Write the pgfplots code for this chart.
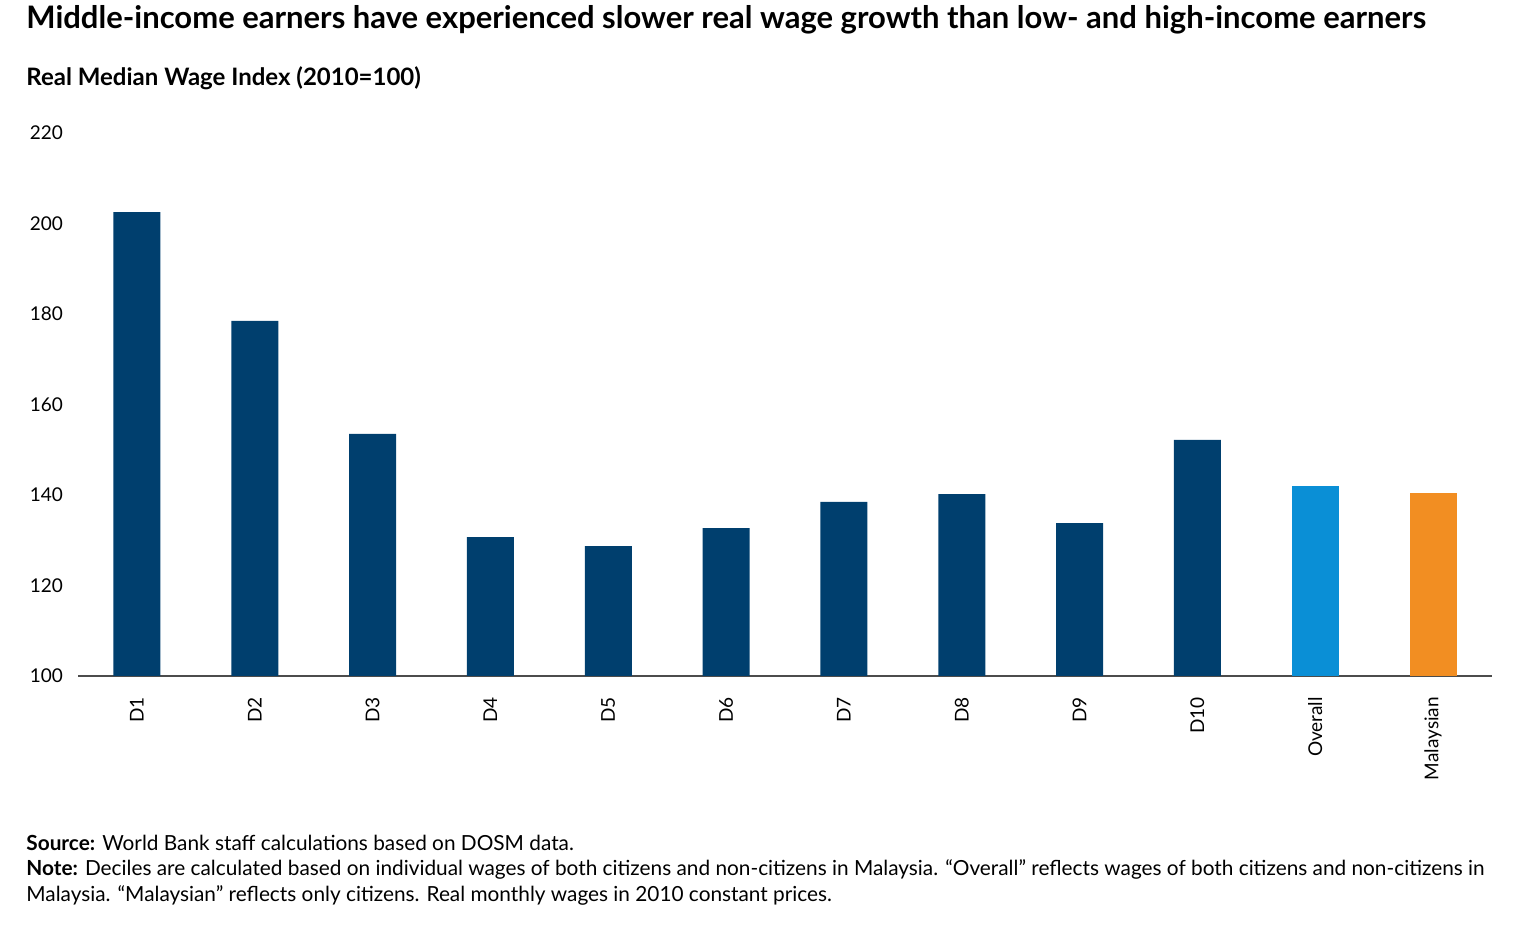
\documentclass[border=0pt]{standalone}
\usepackage{pgfplots}
\pgfplotsset{compat=1.18}
\usepackage{fontspec}
\setmainfont{Lato}
\definecolor{navy}{HTML}{003F6E}
\definecolor{sky}{HTML}{0A8FD6}
\definecolor{orng}{HTML}{F28E22}
\begin{document}
\begin{tikzpicture}
\useasboundingbox (0,0) rectangle (763pt,465pt);
\node[anchor=west,font=\fontsize{15.5pt}{17pt}\selectfont\bfseries,inner sep=0] at (13pt,455pt) {Middle-income earners have experienced slower real wage growth than low- and high-income earners};
\node[anchor=west,font=\fontsize{12pt}{14pt}\selectfont\bfseries,inner sep=0] at (13pt,426pt) {Real Median Wage Index (2010=100)};
\begin{axis}[at={(39pt,127pt)},anchor=south west,scale only axis,
 width=707pt,height=271.5pt,
 xmin=-0.5,xmax=11.5,ymin=100,ymax=220,
 ytick={100,120,...,220},
 axis x line*=bottom, axis y line*=left,
 y axis line style={draw=none},
 xtick={0,...,11},
 xticklabels={D1,D2,D3,D4,D5,D6,D7,D8,D9,D10,Overall,Malaysian},
 major tick length=0pt,
 x axis line style={draw=black!70,line width=0.6pt,-},
 xticklabel style={rotate=90,anchor=east,font=\fontsize{9.5pt}{10pt}\selectfont,xshift=-7pt},
 yticklabel style={font=\fontsize{9.5pt}{10pt}\selectfont,anchor=east,xshift=-4pt},
 ybar,bar width=23.5pt,bar shift=0pt,
 /pgf/number format/assume math mode=true,
 clip=false]
\addplot[fill=navy,draw=none] coordinates {(0,202.5)(1,178.5)(2,153.5)(3,130.7)(4,128.7)(5,132.7)(6,138.5)(7,140.2)(8,133.8)(9,152.2)};
\addplot[fill=sky,draw=none] coordinates {(10,142)};
\addplot[fill=orng,draw=none] coordinates {(11,140.4)};
\end{axis}
\begin{scope}[every node/.style={anchor=west,inner sep=0,font=\fontsize{10.4pt}{11pt}\selectfont}]
\node at (13pt,43.5pt) {\textbf{Source:} World Bank staff calculations based on DOSM data.};
\node at (13pt,30.5pt) {\textbf{Note:} Deciles are calculated based on individual wages of both citizens and non-citizens in Malaysia. “Overall” reflects wages of both citizens and non-citizens in};
\node at (13pt,17.5pt) {Malaysia. “Malaysian” reflects only citizens. Real monthly wages in 2010 constant prices.};
\end{scope}
\end{tikzpicture}
\end{document}
